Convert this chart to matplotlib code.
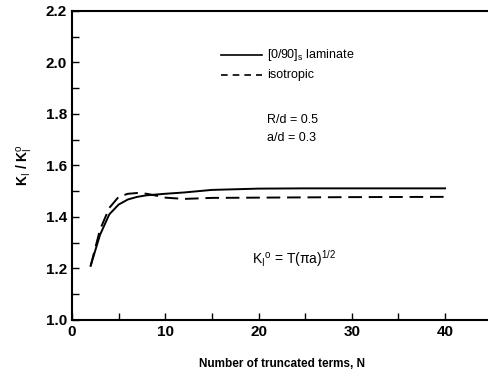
import matplotlib
matplotlib.use("Agg")
import matplotlib.pyplot as plt
from matplotlib.ticker import MultipleLocator

plt.rcParams['font.family'] = ['Liberation Sans', 'DejaVu Sans']
plt.rcParams['mathtext.fontset'] = 'custom'
plt.rcParams['mathtext.rm'] = 'Liberation Sans'
plt.rcParams['mathtext.it'] = 'Liberation Sans'
plt.rcParams['mathtext.bf'] = 'Liberation Sans:bold'

# data
n_laminate = [2, 3, 4, 5, 6, 7, 8, 10, 12, 15, 20, 25, 30, 35, 40]
k_laminate = [1.21, 1.33, 1.41, 1.448, 1.468, 1.478, 1.484, 1.49, 1.495,
              1.505, 1.51, 1.511, 1.511, 1.511, 1.511]
n_iso = [2, 3, 4, 5, 6, 7, 8, 9, 10, 12, 15, 20, 30, 40]
k_iso = [1.21, 1.35, 1.435, 1.478, 1.49, 1.493, 1.49, 1.483, 1.475, 1.47,
         1.474, 1.475, 1.477, 1.478]

fig = plt.figure(figsize=(4.88, 3.76), dpi=100)
ax = fig.add_axes([0.1475, 0.149, 0.86, 0.822])

ax.plot(n_laminate, k_laminate, color='black', lw=1.4, label='laminate')
ax.plot(n_iso, k_iso, color='black', lw=1.4, dashes=(7, 3.5), label='isotropic')

ax.set_xlim(0, 45)
ax.set_ylim(1.0, 2.2)
ax.xaxis.set_major_locator(MultipleLocator(10))
ax.xaxis.set_minor_locator(MultipleLocator(5))
ax.yaxis.set_major_locator(MultipleLocator(0.2))
ax.yaxis.set_minor_locator(MultipleLocator(0.1))
ax.yaxis.set_major_formatter(plt.FormatStrFormatter('%.1f'))
ax.tick_params(which='both', direction='in', top=False, right=False,
               labelsize=11, width=1)
ax.tick_params(which='major', length=5)
ax.tick_params(which='minor', length=5)
for lab in ax.get_xticklabels() + ax.get_yticklabels():
    lab.set_fontweight('bold')
for sp in ax.spines.values():
    sp.set_linewidth(1.5)

ax.set_xlabel('Number of truncated terms, N', fontsize=8.5, fontweight='bold',
              labelpad=14)
ax.set_ylabel(r'K$_{\rm I}$ / K$_{\rm I}^{\rm o}$', fontsize=10, fontweight='bold',
              labelpad=8)

# legend drawn by hand like the original
ax.plot([16.0, 20.4], [2.027, 2.027], color='black', lw=1.2)
ax.plot([16.0, 20.4], [1.95, 1.95], color='black', lw=1.2, dashes=(4, 3))
ax.text(20.9, 2.027, r'[0/90]$_{\rm s}$ laminate', fontsize=9, va='center')
ax.text(20.9, 1.95, 'isotropic', fontsize=9, va='center')
ax.text(20.9, 1.775, 'R/d = 0.5', fontsize=9, va='center')
ax.text(20.9, 1.705, 'a/d = 0.3', fontsize=9, va='center')
ax.text(19.3, 1.24, r'K$_{\rm I}$$^{\rm o}$ = T($\pi$a)$^{1/2}$', fontsize=10,
        va='center')

fig.savefig('out.png', dpi=100)
